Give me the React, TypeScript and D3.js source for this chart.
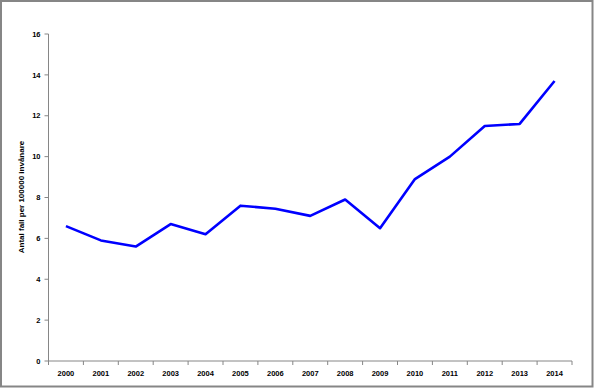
import React from "react";
import * as d3 from "d3";

const years = ["2000","2001","2002","2003","2004","2005","2006","2007","2008","2009","2010","2011","2012","2013","2014"];
const values = [6.6, 5.9, 5.6, 6.7, 6.2, 7.6, 7.45, 7.1, 7.9, 6.5, 8.9, 10.0, 11.5, 11.6, 13.7];
const yTicks = [0, 2, 4, 6, 8, 10, 12, 14, 16];
const yLabel = "Antal fall per 100000 invånare";

export default function App() {
  const W = 594, H = 388;
  const x0 = 48.5, x1 = 572, yTop = 34, yBot = 361;
  const x = d3.scaleBand<string>().domain(years).range([x0, x1]).paddingInner(0).paddingOuter(0);
  const y = d3.scaleLinear().domain([0, 16]).range([yBot, yTop]);
  const line = d3.line<number>()
    .x((_, i) => (x(years[i]) as number) + x.bandwidth() / 2)
    .y(d => y(d));
  const axisColor = "#868686";
  const font = "'Liberation Sans', Arial, sans-serif";
  const boundaries = d3.range(years.length + 1).map(i => x0 + i * x.bandwidth());
  return (
    <svg width={W} height={H} style={{ position: "absolute", left: 0, top: 0 }}>
      <rect x={0} y={0} width={W} height={H} fill="#fff" />
      <rect x={1} y={1} width={W - 2.5} height={H - 2.5} fill="none" stroke={axisColor} strokeWidth={2} />
      {/* y axis */}
      <line x1={x0} x2={x0} y1={yTop} y2={yBot} stroke={axisColor} strokeWidth={1} />
      {yTicks.map(t => (
        <g key={t}>
          <line x1={x0 - 4} x2={x0} y1={y(t)} y2={y(t)} stroke={axisColor} />
          <text x={x0 - 8} y={y(t)} dy="0.35em" textAnchor="end" fontFamily={font} fontSize={7.5} fontWeight="bold" fill="#000">{t}</text>
        </g>
      ))}
      {/* x axis */}
      <line x1={x0} x2={x1} y1={yBot} y2={yBot} stroke={axisColor} strokeWidth={1} />
      {boundaries.map((b, i) => (
        <line key={i} x1={b} x2={b} y1={yBot} y2={yBot + 4} stroke={axisColor} />
      ))}
      {years.map(yr => (
        <text key={yr} x={(x(yr) as number) + x.bandwidth() / 2} y={373} dy="0.35em" textAnchor="middle" fontFamily={font} fontSize={7.5} fontWeight="bold" fill="#000">{yr}</text>
      ))}
      <text transform={`translate(21,197) rotate(-90)`} textAnchor="middle" dy="0.35em" fontFamily={font} fontSize={8} fontWeight="bold" fill="#000">{yLabel}</text>
      <path d={line(values) || ""} fill="none" stroke="#0000FF" strokeWidth={2.6} strokeLinejoin="round" />
    </svg>
  );
}
